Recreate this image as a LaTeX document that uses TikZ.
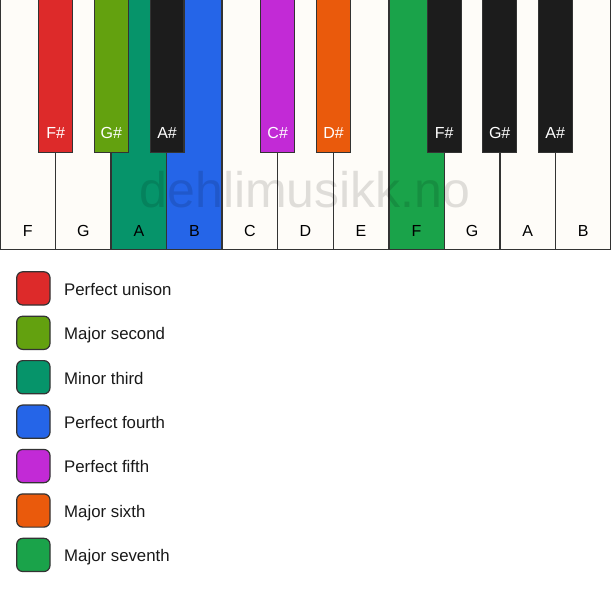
\documentclass[tikz,border=0pt]{standalone}
\usepackage{fontspec}
\setmainfont{Liberation Sans}
\definecolor{keywhite}{HTML}{FEFCF8}
\definecolor{keyblack}{HTML}{1C1C1C}
\definecolor{outl}{HTML}{333333}
\definecolor{cred}{HTML}{DD2A2A}
\definecolor{clime}{HTML}{63A10F}
\definecolor{cteal}{HTML}{06946A}
\definecolor{cblue}{HTML}{2565E8}
\definecolor{cpurple}{HTML}{C22AD6}
\definecolor{corange}{HTML}{EA5A0C}
\definecolor{cgreen}{HTML}{1AA34A}
\tikzset{
  whitekey/.style={draw=outl, line width=1.4pt, fill=#1},
  blackkey/.style={draw=outl, line width=1.2pt, fill=#1},
  wlabel/.style={font=\fontsize{16}{18}\selectfont, text=black},
  blabel/.style={font=\fontsize{16}{18}\selectfont, text=white},
  swatch/.style={draw=outl, line width=1.2pt, rounded corners=6pt, fill=#1},
  legtext/.style={font=\fontsize{16.8}{19}\selectfont, anchor=base west, text=black!90},
}
\begin{document}
\begin{tikzpicture}[x=1pt,y=-1pt]
\useasboundingbox[fill=white] (0,0) rectangle (611,594);
% white keys
\foreach \i/\n/\c in {0/F/keywhite,1/G/keywhite,2/A/cteal,3/B/cblue,4/C/keywhite,5/D/keywhite,6/E/keywhite,7/F/cgreen,8/G/keywhite,9/A/keywhite,10/B/keywhite}{
  \draw[whitekey=\c] ({\i*55.545},-2) rectangle ({(\i+1)*55.545},249.5);
  \node[wlabel] (w\i) at ({(\i+0.5)*55.545},230.5) {\n};
}
% black keys
\foreach \x/\n/\c/\k in {38.8/F\#/cred/1,94.5/G\#/clime/2,150.2/A\#/keyblack/3,260.8/C\#/cpurple/4,316.7/D\#/corange/5,427.3/F\#/keyblack/6,482.8/G\#/keyblack/7,538.3/A\#/keyblack/8}{
  \draw[blackkey=\c] (\x,-2) rectangle ({\x+33.8},152.7);
  \node[blabel] (b\k) at ({\x+16.9},133) {\n};
}
% watermark
\node[font=\fontsize{50}{55}\selectfont, text=black, opacity=0.12, anchor=base] (wm) at (305,207.5) {dehlimusikk.no};
% legend
\foreach \j/\c/\t in {0/cred/Perfect unison,1/clime/Major second,2/cteal/Minor third,3/cblue/Perfect fourth,4/cpurple/Perfect fifth,5/corange/Major sixth,6/cgreen/Major seventh}{
  \draw[swatch=\c] (16.7,{271.8+\j*44.42}) rectangle (50,{305+\j*44.42});
  \node[legtext, inner sep=0pt] (l\j) at (64,{295.3+\j*44.42}) {\t};
}
\end{tikzpicture}
\end{document}
